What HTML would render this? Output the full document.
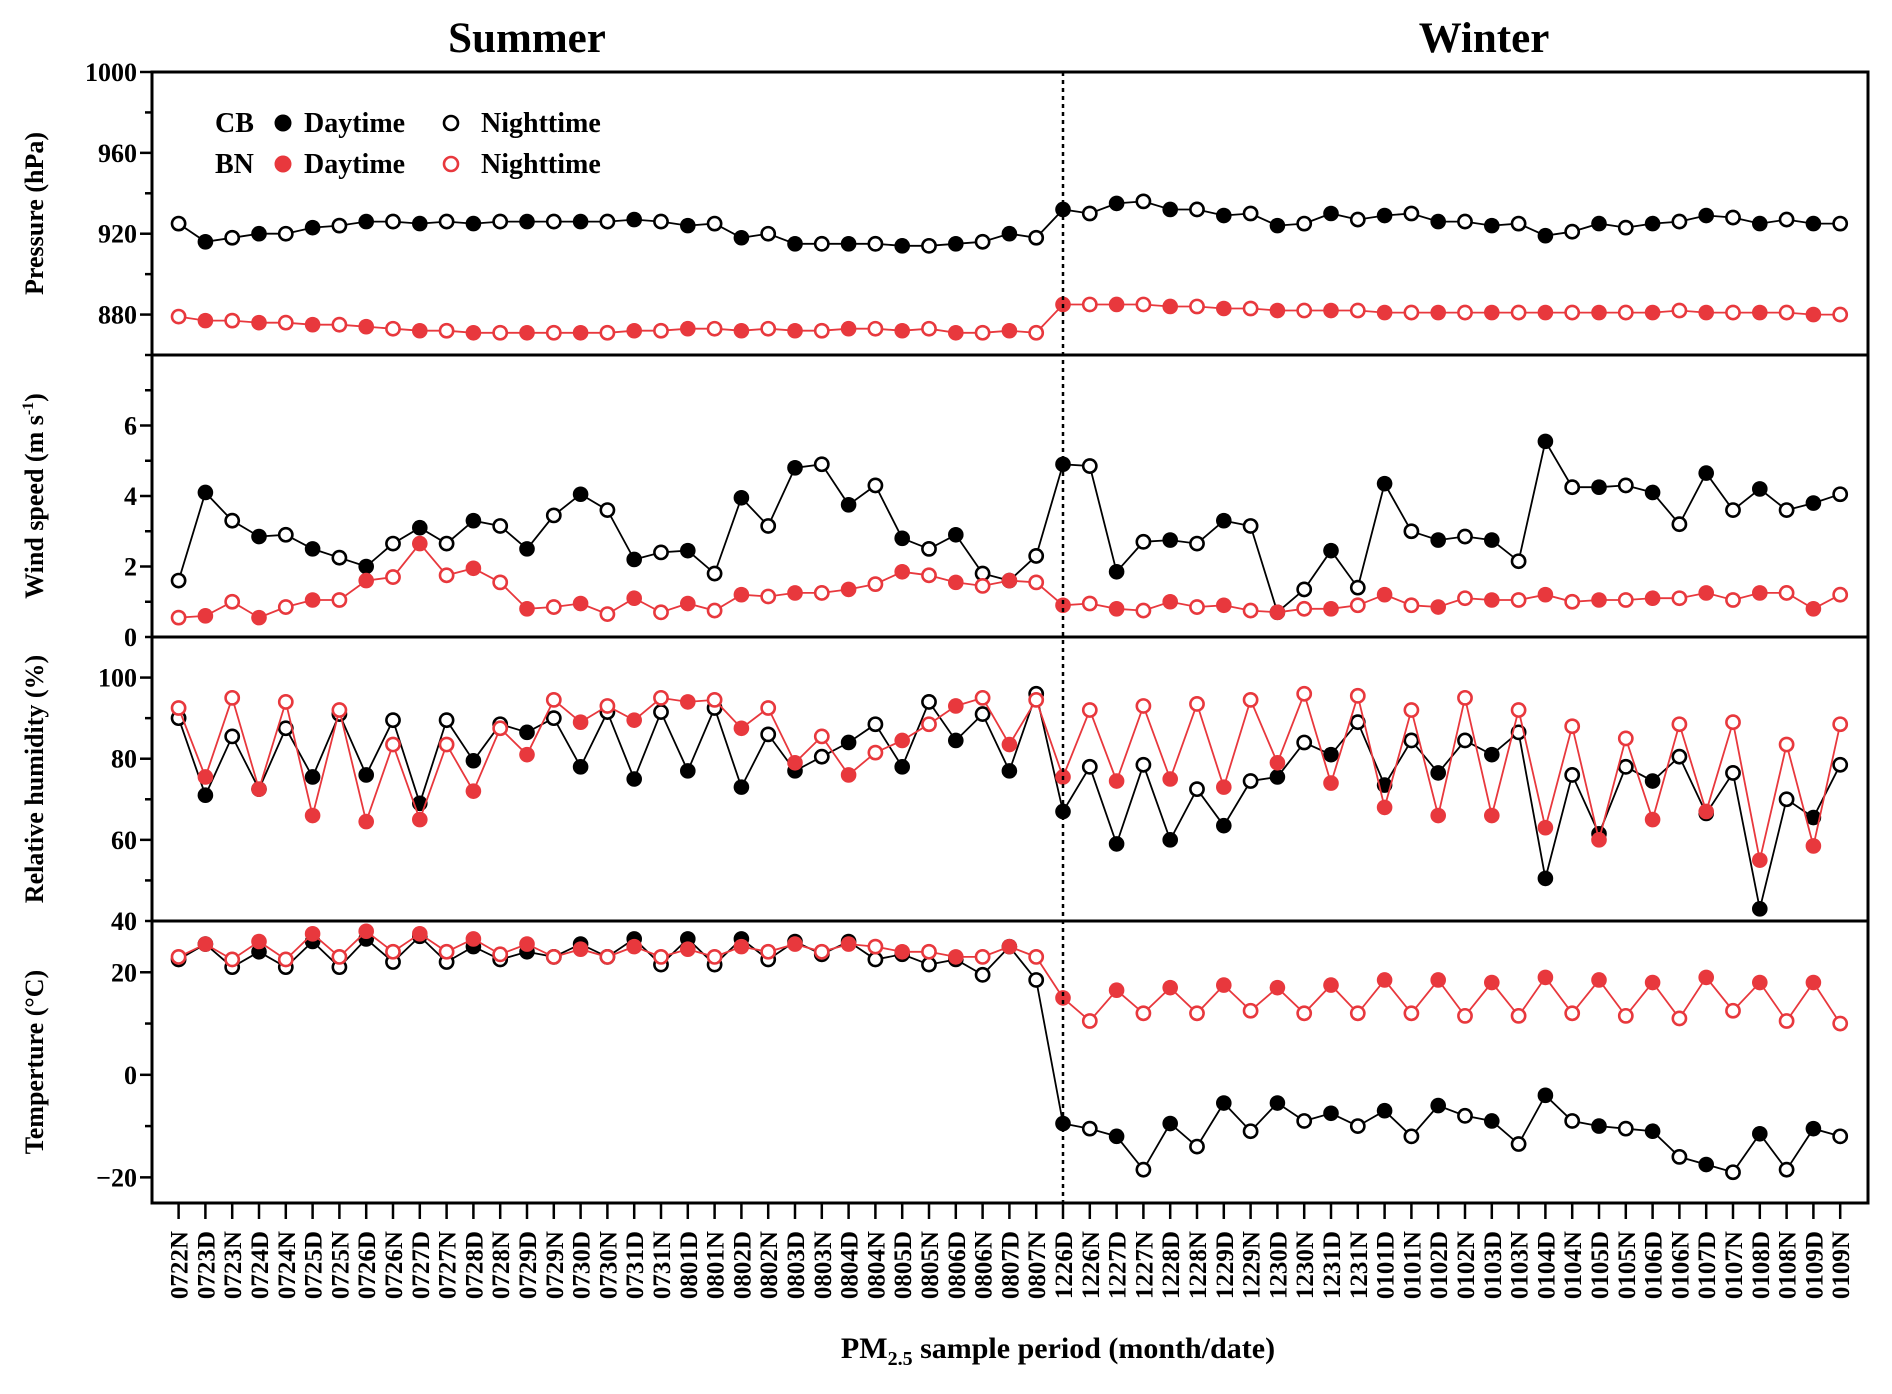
<!DOCTYPE html>
<html><head><meta charset="utf-8">
<style>
html,body{margin:0;padding:0;background:#fff;}
svg{display:block;}
svg text{font-family:"Liberation Serif",serif;font-weight:bold;}
</style></head>
<body>
<svg id="chart" width="1892" height="1394" viewBox="0 0 1892 1394" xmlns="http://www.w3.org/2000/svg"></svg>
<script>
const categories = ["0722N","0723D","0723N","0724D","0724N","0725D","0725N","0726D","0726N","0727D","0727N","0728D","0728N","0729D","0729N","0730D","0730N","0731D","0731N","0801D","0801N","0802D","0802N","0803D","0803N","0804D","0804N","0805D","0805N","0806D","0806N","0807D","0807N","1226D","1226N","1227D","1227N","1228D","1228N","1229D","1229N","1230D","1230N","1231D","1231N","0101D","0101N","0102D","0102N","0103D","0103N","0104D","0104N","0105D","0105N","0106D","0106N","0107D","0107N","0108D","0108N","0109D","0109N"];
const pressureCB = [925,916,918,920,920,923,924,926,926,925,926,925,926,926,926,926,926,927,926,924,925,918,920,915,915,915,915,914,914,915,916,920,918,
932,930,935,936,932,932,929,930,924,925,930,927,929,930,926,926,924,925,919,921,925,923,925,926,929,928,925,927,925,925];
const pressureBN = [879,877,877,876,876,875,875,874,873,872,872,871,871,871,871,871,871,872,872,873,873,872,873,872,872,873,873,872,873,871,871,872,871,
885,885,885,885,884,884,883,883,882,882,882,882,881,881,881,881,881,881,881,881,881,881,881,882,881,881,881,881,880,880];
const windCB = [1.6,4.1,3.3,2.85,2.9,2.5,2.25,2.0,2.65,3.1,2.65,3.3,3.15,2.5,3.45,4.05,3.6,2.2,2.4,2.45,1.8,3.95,3.15,4.8,4.9,3.75,4.3,2.8,2.5,2.9,1.8,1.6,2.3,
4.9,4.85,1.85,2.7,2.75,2.65,3.3,3.15,0.7,1.35,2.45,1.4,4.35,3.0,2.75,2.85,2.75,2.15,5.55,4.25,4.25,4.3,4.1,3.2,4.65,3.6,4.2,3.6,3.8,4.05];
const windBN = [0.55,0.6,1.0,0.55,0.85,1.05,1.05,1.6,1.7,2.65,1.75,1.95,1.55,0.8,0.85,0.95,0.65,1.1,0.7,0.95,0.75,1.2,1.15,1.25,1.25,1.35,1.5,1.85,1.75,1.55,1.45,1.6,1.55,
0.9,0.95,0.8,0.75,1.0,0.85,0.9,0.75,0.7,0.8,0.8,0.9,1.2,0.9,0.85,1.1,1.05,1.05,1.2,1.0,1.05,1.05,1.1,1.1,1.25,1.05,1.25,1.25,0.8,1.2];
const rhCB = [90,71,85.5,72.5,87.5,75.5,91,76,89.5,69,89.5,79.5,88.5,86.5,90,78,91.5,75,91.5,77,92.5,73,86,77,80.5,84,88.5,78,94,84.5,91,77,96,
67,78,59,78.5,60,72.5,63.5,74.5,75.5,84,81,89,73.5,84.5,76.5,84.5,81,86.5,50.5,76,61.5,78,74.5,80.5,66.5,76.5,43,70,65.5,78.5];
const rhBN = [92.5,75.5,95,72.5,94,66,92,64.5,83.5,65,83.5,72,87.5,81,94.5,89,93,89.5,95,94,94.5,87.5,92.5,79,85.5,76,81.5,84.5,88.5,93,95,83.5,94.5,
75.5,92,74.5,93,75,93.5,73,94.5,79,96,74,95.5,68,92,66,95,66,92,63,88,60,85,65,88.5,67,89,55,83.5,58.5,88.5];
const tempCB = [22.5,25.5,21,24,21,26,21,26.5,22,27,22,25,22.5,24,23,25.5,23,26.5,21.5,26.5,21.5,26.5,22.5,26,23.5,26,22.5,23.5,21.5,22.5,19.5,25,18.5,
-9.5,-10.5,-12,-18.5,-9.5,-14,-5.5,-11,-5.5,-9,-7.5,-10,-7,-12,-6,-8,-9,-13.5,-4,-9,-10,-10.5,-11,-16,-17.5,-19,-11.5,-18.5,-10.5,-12];
const tempBN = [23,25.5,22.5,26,22.5,27.5,23,28,24,27.5,24,26.5,23.5,25.5,23,24.5,23,25,23,24.5,23,25,24,25.5,24,25.5,25,24,24,23,23,25,23,
15,10.5,16.5,12,17,12,17.5,12.5,17,12,17.5,12,18.5,12,18.5,11.5,18,11.5,19,12,18.5,11.5,18,11,19,12.5,18,10.5,18,10];
const pressureTicks = [880,920,960,1000];
const windTicks = [0,2,4,6];
const rhTicks = [40,60,80,100];
const tempTicks = [-20,0,20];

const NS = "http://www.w3.org/2000/svg";
const svg = document.getElementById('chart');
const L = 152, R = 1868, X0 = 178.6, DX = 26.8;
const RED = "#e8383d";
function mk(tag, attrs, parent){ const e=document.createElementNS(NS,tag); for(const k in attrs) e.setAttribute(k,attrs[k]); (parent||svg).appendChild(e); return e; }
function xPos(i){ return X0 + i*DX; }

const panels = [
 {name:'pressure', top:72, bot:355, min:860, max:1000, ticks:pressureTicks, minor:20, title:'Pressure (hPa)', cb:pressureCB, bn:pressureBN},
 {name:'wind-speed', top:355, bot:637, min:0, max:8, ticks:windTicks, minor:1, title:'Wind speed (m s-1)', cb:windCB, bn:windBN},
 {name:'relative-humidity', top:637, bot:921, min:40, max:110, ticks:rhTicks, minor:10, title:'Relative humidity (%)', cb:rhCB, bn:rhBN},
 {name:'temperature', top:921, bot:1203, min:-25, max:30, ticks:tempTicks, minor:10, title:'Temperture (\u00B0C)', cb:tempCB, bn:tempBN}
];

panels.forEach(p=>{
  const y = v => p.bot - (v-p.min)/(p.max-p.min)*(p.bot-p.top);
  const g = mk('g',{});
  
  
  mk('rect',{x:L,y:p.top,width:R-L,height:p.bot-p.top,fill:'none',stroke:'#000','stroke-width':3},g);
  for(let v=Math.ceil(p.min/p.minor)*p.minor; v<=p.max; v+=p.minor){
    if(v===p.min && p.name!=='temperature') continue;
    const major = p.ticks.includes(v);
    mk('line',{x1:L-(major?12:7),x2:L,y1:y(v),y2:y(v),stroke:'#000','stroke-width':2.5},g);
  }
  p.ticks.forEach(v=>{
    const t = mk('text',{x:L-15,y:y(v)+9,'text-anchor':'end','font-size':26},g);
    t.textContent = (v<0?'\u2212'+Math.abs(v):v);
    
    
  });
  const cy = (p.top+p.bot)/2;
  const tt = mk('text',{x:0,y:0,'text-anchor':'middle','font-size':26,transform:`translate(43,${cy}) rotate(-90)`},g);
  
  
  if(p.name==='wind-speed'){ tt.innerHTML='Wind speed (m s<tspan dy="-10" font-size="16">-1</tspan><tspan dy="10">)</tspan>'; }
  else tt.textContent = p.title;
  [[p.cb,'#000','cb'],[p.bn,RED,'bn']].forEach(([arr,col,site])=>{
    const pts = arr.map((v,i)=>xPos(i).toFixed(1)+','+y(v).toFixed(1)).join(' ');
    const line = mk('polyline',{points:pts,fill:'none',stroke:col,'stroke-width':1.8},g);
    
    
    arr.forEach((v,i)=>{
      const day = categories[i].endsWith('D');
      const c = mk('circle',{cx:xPos(i),cy:y(v),r:day?7.8:6.6,fill:day?col:'#fff',stroke:col,'stroke-width':day?0:2.6},g);
      
      
    });
  });
});

const sep = mk('line',{x1:xPos(33),x2:xPos(33),y1:72,y2:1203,stroke:'#000','stroke-width':2.5,'stroke-dasharray':'4,4'});



categories.forEach((c,i)=>{
  mk('line',{x1:xPos(i),x2:xPos(i),y1:1203,y2:1219,stroke:'#000','stroke-width':2.5});
  const t = mk('text',{x:0,y:0,'text-anchor':'end','font-size':25,transform:`translate(${xPos(i)+9},1231) rotate(-90)`});
  t.textContent = c;
  
  
});

function txt(s,x,y,size,name){
  const t = mk('text',{x:x,y:y,'font-size':size,'text-anchor':'middle'});
  t.textContent = s;
  
  
  return t;
}
txt('Summer',527,52,43,'summer-title');
txt('Winter',1484,52,43,'winter-title');
const xt = mk('text',{x:1058,y:1358,'font-size':30,'text-anchor':'middle'});
xt.innerHTML = 'PM<tspan dy="7" font-size="20">2.5</tspan><tspan dy="-7"> sample period (month/date)</tspan>';



const lg = mk('g',{});


[['CB','#000',132],['BN',RED,173]].forEach(([s,col,yy])=>{
  const a = mk('text',{x:215,y:yy,'font-size':28},lg); a.textContent=s;
  mk('circle',{cx:283,cy:yy-9,r:8.5,fill:col},lg);
  const b = mk('text',{x:304,y:yy,'font-size':28},lg); b.textContent='Daytime';
  mk('circle',{cx:451,cy:yy-9,r:7,fill:'#fff',stroke:col,'stroke-width':2.6},lg);
  const c = mk('text',{x:481,y:yy,'font-size':28},lg); c.textContent='Nighttime';
});
</script>
</body></html>
